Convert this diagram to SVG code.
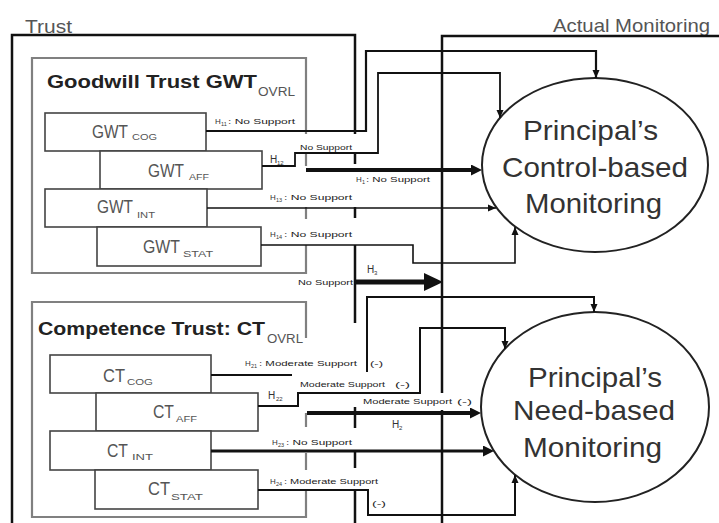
<svg xmlns="http://www.w3.org/2000/svg" width="719" height="523" viewBox="0 0 719 523">
<style>
text{font-family:"Liberation Sans",Arial,sans-serif}
.frame{fill:none;stroke:#111;stroke-width:2.5}
.gbox{fill:none;stroke:#808080;stroke-width:2.2}
.box{fill:#fff;stroke:#444;stroke-width:1.6}
.bt{font-size:18px;fill:#555}
.bs{font-size:9px;fill:#555}
.title{font-size:18px;font-weight:bold;fill:#222}
.ovrl{font-size:12px;fill:#555}
.lbl{font-size:7.5px;fill:#222}
.h{font-size:8px;fill:#333}
.hs{font-size:5.5px;fill:#333}
.hb{font-size:10px;fill:#333}
.hbs{font-size:6px;fill:#333}
.cn{fill:none;stroke:#111}
.ell{fill:#fff;stroke:#222;stroke-width:2}
.et{font-size:28px;fill:#333}
.big{font-size:19px;fill:#555}
</style>
<defs>
<marker id="ah" markerWidth="8" markerHeight="8" refX="8" refY="4" orient="auto" markerUnits="userSpaceOnUse"><path d="M0,0.5 L8,4 L0,7.5 z" fill="#111"/></marker>
<marker id="ahT" markerWidth="12" markerHeight="12" refX="5" refY="5.5" orient="auto" markerUnits="userSpaceOnUse"><path d="M0,0 L11,5.5 L0,11 z" fill="#111"/></marker>
</defs>
<rect width="719" height="523" fill="#fff"/>

<g id="frames">
<text class="big" x="25" y="33" textLength="47" lengthAdjust="spacingAndGlyphs">Trust</text>
<text class="big" x="553" y="32" textLength="157" lengthAdjust="spacingAndGlyphs">Actual Monitoring</text>
<path class="frame" d="M12,523 V35 H355 V134 M355,154 V164 M355,207 V218 M355,245 V323 M355,407 V428 M355,452 V468 M355,490 V523"/>
<path class="frame" stroke-width="2" d="M442,523 V410 M442,393 V36 H719"/>
</g>

<g id="goodwill">
<path class="gbox" d="M306,134 V58 H32 V273 H306 V245 M306,219 V207 M306,166 V154"/>
<text class="title" x="47" y="88" textLength="210" lengthAdjust="spacingAndGlyphs">Goodwill Trust  GWT</text>
<text class="ovrl" x="258" y="96" textLength="37" lengthAdjust="spacingAndGlyphs">OVRL</text>
</g>
<g id="gwt-cog">
<rect class="box" x="45" y="113" width="161" height="38"/>
<text class="bt" x="92" y="138" textLength="36" lengthAdjust="spacingAndGlyphs">GWT</text>
<text class="bs" x="132" y="140" textLength="25" lengthAdjust="spacingAndGlyphs">COG</text>
</g>
<g id="gwt-aff">
<rect class="box" x="100" y="151" width="162" height="38"/>
<text class="bt" x="148" y="177" textLength="36" lengthAdjust="spacingAndGlyphs">GWT</text>
<text class="bs" x="189" y="180" textLength="20" lengthAdjust="spacingAndGlyphs">AFF</text>
</g>
<g id="gwt-int">
<rect class="box" x="45" y="189" width="162" height="38"/>
<text class="bt" x="97" y="213" textLength="36" lengthAdjust="spacingAndGlyphs">GWT</text>
<text class="bs" x="137" y="218" textLength="18" lengthAdjust="spacingAndGlyphs">INT</text>
</g>
<g id="gwt-stat">
<rect class="box" x="97" y="227" width="164" height="39"/>
<text class="bt" x="143" y="253" textLength="37" lengthAdjust="spacingAndGlyphs">GWT</text>
<text class="bs" x="183" y="257" textLength="30" lengthAdjust="spacingAndGlyphs">STAT</text>
</g>

<g id="competence">
<path class="gbox" d="M306,338 V302 H32 V517 H306 V490 M306,470 V453 M306,427 V413"/>
<text class="title" x="38" y="335" font-size="19" textLength="227" lengthAdjust="spacingAndGlyphs">Competence Trust: CT</text>
<text class="ovrl" x="267" y="343" textLength="36" lengthAdjust="spacingAndGlyphs">OVRL</text>
</g>
<g id="ct-cog">
<rect class="box" x="50" y="355" width="161" height="38"/>
<text class="bt" x="103" y="382" textLength="22" lengthAdjust="spacingAndGlyphs">CT</text>
<text class="bs" x="127" y="385" textLength="26" lengthAdjust="spacingAndGlyphs">COG</text>
</g>
<g id="ct-aff">
<rect class="box" x="96" y="393" width="162" height="38"/>
<text class="bt" x="153" y="418" textLength="21" lengthAdjust="spacingAndGlyphs">CT</text>
<text class="bs" x="176" y="422" textLength="21" lengthAdjust="spacingAndGlyphs">AFF</text>
</g>
<g id="ct-int">
<rect class="box" x="50" y="431" width="161" height="39"/>
<text class="bt" x="107" y="457" textLength="21" lengthAdjust="spacingAndGlyphs">CT</text>
<text class="bs" x="132" y="460" textLength="21" lengthAdjust="spacingAndGlyphs">INT</text>
</g>
<g id="ct-stat">
<rect class="box" x="95" y="470" width="163" height="39"/>
<text class="bt" x="148" y="495" textLength="22" lengthAdjust="spacingAndGlyphs">CT</text>
<text class="bs" x="171" y="500" textLength="32" lengthAdjust="spacingAndGlyphs">STAT</text>
</g>

<g id="control-monitoring">
<ellipse class="ell" cx="595" cy="165" rx="113" ry="87"/>
<text class="et" x="523" y="140" textLength="135" lengthAdjust="spacingAndGlyphs">Principal’s</text>
<text class="et" x="502" y="177" textLength="186" lengthAdjust="spacingAndGlyphs">Control-based</text>
<text class="et" x="525" y="213" textLength="137" lengthAdjust="spacingAndGlyphs">Monitoring</text>
</g>
<g id="need-monitoring">
<ellipse class="ell" cx="595" cy="407" rx="114" ry="95"/>
<text class="et" x="528" y="387" textLength="134" lengthAdjust="spacingAndGlyphs">Principal’s</text>
<text class="et" x="513" y="420" textLength="162" lengthAdjust="spacingAndGlyphs">Need-based</text>
<text class="et" x="523" y="457" textLength="139" lengthAdjust="spacingAndGlyphs">Monitoring</text>
</g>

<g id="connectors">
<path class="cn" stroke-width="2.2" d="M206,131 H366 V51 H596 V78" marker-end="url(#ah)"/>
<path class="cn" stroke-width="1.8" d="M262,166 H295 V153 H378 V73 H500 V118" marker-end="url(#ah)"/>
<path class="cn" stroke-width="4" d="M306,170 H476" marker-end="url(#ahT)"/>
<path class="cn" stroke-width="1.4" d="M207,208 H496" marker-end="url(#ah)"/>
<path class="cn" stroke-width="1.6" d="M261,245 H413 V263 H515 V227" marker-end="url(#ah)"/>
<path class="cn" stroke-width="5" d="M355,282 H426"/>
<polygon points="424,273 443,282 424,291" fill="#111"/>
<path class="cn" stroke-width="2" d="M211,375 H367 V297 H594 V312" marker-end="url(#ah)"/>
<path class="cn" stroke-width="2" d="M258,406 H298 V393 H420 V328 H505 V349" marker-end="url(#ah)"/>
<path class="cn" stroke-width="4" d="M307,413 H475" marker-end="url(#ahT)"/>
<path class="cn" stroke-width="3" d="M211,451 H488" marker-end="url(#ahT)"/>
<path class="cn" stroke-width="2" d="M258,490 H368 V515 H515 V475" marker-end="url(#ah)"/>
</g>

<g id="labels">
<rect x="292" y="372" width="120" height="19" fill="#fff"/>
<text class="h" x="215" y="124">H</text><text class="hs" x="221" y="126">11</text>
<text class="lbl" x="228" y="124" textLength="67" lengthAdjust="spacingAndGlyphs">: No Support</text>
<text class="lbl" x="300" y="150" textLength="52" lengthAdjust="spacingAndGlyphs">No Support</text>
<text class="hb" x="270" y="163">H</text><text class="hbs" x="277" y="165">12</text>
<text class="h" x="356" y="182">H</text><text class="hs" x="362" y="184">1</text>
<text class="lbl" x="366" y="182" textLength="64" lengthAdjust="spacingAndGlyphs">: No Support</text>
<text class="h" x="270" y="200">H</text><text class="hs" x="276" y="202">13</text>
<text class="lbl" x="284" y="200" textLength="68" lengthAdjust="spacingAndGlyphs">: No Support</text>
<text class="h" x="270" y="237">H</text><text class="hs" x="276" y="239">14</text>
<text class="lbl" x="284" y="237" textLength="68" lengthAdjust="spacingAndGlyphs">: No Support</text>
<text class="lbl" x="298" y="285" textLength="55" lengthAdjust="spacingAndGlyphs">No Support</text>
<text class="hb" x="367" y="273">H</text><text class="hbs" x="374" y="275">3</text>
<text class="h" x="245" y="366">H</text><text class="hs" x="251" y="368">21</text>
<text class="lbl" x="259" y="366" textLength="98" lengthAdjust="spacingAndGlyphs">: Moderate Support</text>
<text class="lbl" x="370" y="366" textLength="13" lengthAdjust="spacingAndGlyphs">(-)</text>
<text class="hb" x="268" y="399">H</text><text class="hbs" x="276" y="401">22</text>
<text class="lbl" x="300" y="387" textLength="85" lengthAdjust="spacingAndGlyphs">Moderate Support</text>
<text class="lbl" x="395" y="387" textLength="15" lengthAdjust="spacingAndGlyphs">(-)</text>
<text class="lbl" x="363" y="404" textLength="89" lengthAdjust="spacingAndGlyphs">Moderate Support</text>
<text class="lbl" x="457" y="404" textLength="15" lengthAdjust="spacingAndGlyphs">(-)</text>
<text class="hb" x="392" y="428">H</text><text class="hbs" x="399" y="430">2</text>
<text class="h" x="272" y="445">H</text><text class="hs" x="278" y="447">23</text>
<text class="lbl" x="286" y="445" textLength="66" lengthAdjust="spacingAndGlyphs">: No Support</text>
<text class="h" x="270" y="484">H</text><text class="hs" x="276" y="486">24</text>
<text class="lbl" x="284" y="484" textLength="94" lengthAdjust="spacingAndGlyphs">: Moderate Support</text>
<text class="lbl" x="372" y="506" textLength="14" lengthAdjust="spacingAndGlyphs">(-)</text>
</g>
</svg>
